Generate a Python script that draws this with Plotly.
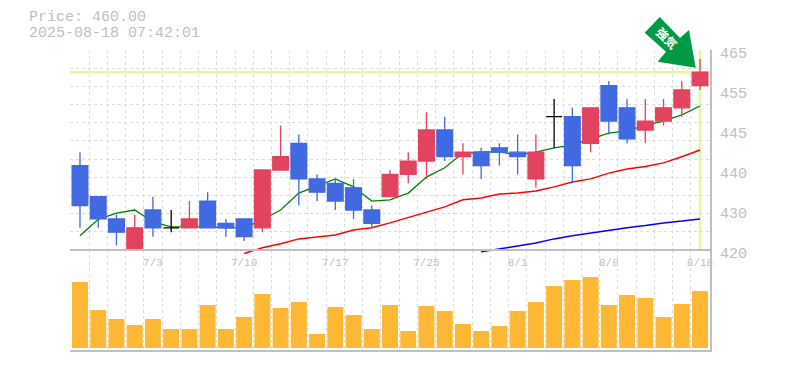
import plotly.graph_objects as go

dates = ["6/27","6/30","7/1","7/2","7/3","7/4","7/7","7/8","7/9","7/10","7/11","7/14","7/15","7/16","7/17",
         "7/18","7/22","7/23","7/24","7/25","7/28","7/29","7/30","7/31","8/1","8/4","8/5","8/6","8/7","8/8",
         "8/12","8/13","8/14","8/15","8/18"]
opens = [439,432,427,420,429,425,425,431,426,427,425,438,444,436,435,434,429,432,437,440,447,441,442,443,442,436,450,450,444,457,452,447,449,452,457]
highs = [442,432,428,428,432,429,431,433,427,427,438,448,446,437,436,436,430,438,442,451,450,444,443,444,446,446,454,452,452,458,454,454,454,458,463]
lows = [425,425,421,420,423,424,425,425,423,422,424,438,430,431,429,427,425,432,435,436,440,437,436,439,437,434,443,435,442,446,444,444,448,450,456]
closes = [430,427,424,425,425,425,427,425,425,423,438,441,436,433,431,429,426,437,440,447,441,442,439,442,441,442,450,439,452,449,445,449,452,456,460]
volumes = [6600,3800,2900,2300,2900,1900,1900,4300,1900,3100,5400,4000,4600,1400,4100,3300,1900,4300,1700,4200,3700,2400,1700,2200,3700,4600,6200,6800,7100,4300,5300,5000,3100,4400,5700]
ma_short = [423.2,426.9,428.3,429.0,426.3,425.2,425.2,425.2,425.0,425.0,426.8,429.0,432.8,434.4,436.0,434.2,431.0,431.3,432.8,436.4,438.5,441.8,442.1,442.1,441.4,442.0,443.0,443.6,445.0,446.3,446.8,448.1,449.0,450.4,452.4]
ma_mid = [None]*9 + [419.2,420.5,421.4,422.5,422.9,423.4,424.5,425.0,426.1,427.3,428.4,429.7,431.3,431.7,432.6,432.8,433.3,434.2,435.3,436.0,437.3,438.2,438.8,439.6,441.0,442.5]
ma_long = [None]*22 + [419.6,420.2,420.9,421.6,422.5,423.2,423.8,424.5,425.0,425.5,426.1,426.5,427.0]
price_ticks = [420,429,438,447,456,465]
price_labels = ["420","430","440","445","455","465"]
date_ticks = [4,9,14,19,24,29,34]
current_price = 460

n = len(dates)
idx = list(range(n))
doji = [i for i in idx if opens[i] == closes[i]]
body = [i for i in idx if opens[i] != closes[i]]

RED, BLUE, GREY, GRID = "#e2435f", "#4169e1", "#c0c0c0", "#dddddd"
HILITE = "#e6f7ab"
MONO = "Liberation Mono"
x_range = [-0.548, 34.548]
y_range = [419.1, 465]

fig = go.Figure()
fig.add_scatter(x=idx, y=ma_short, mode="lines", line=dict(color="#008000", width=1.3), xaxis="x", yaxis="y", showlegend=False)
fig.add_scatter(x=idx, y=ma_mid, mode="lines", line=dict(color="#ff0000", width=1.5), xaxis="x", yaxis="y", showlegend=False)
fig.add_scatter(x=idx, y=ma_long, mode="lines", line=dict(color="#0000ff", width=1.5), xaxis="x", yaxis="y", showlegend=False)

fig.add_candlestick(x=body, open=[opens[i] for i in body], high=[highs[i] for i in body],
                    low=[lows[i] for i in body], close=[closes[i] for i in body],
                    increasing=dict(line=dict(color=RED, width=1.3), fillcolor=RED),
                    decreasing=dict(line=dict(color=BLUE, width=1.3), fillcolor=BLUE),
                    whiskerwidth=0, xaxis="x", yaxis="y3", showlegend=False)
fig.add_candlestick(x=doji, open=[opens[i] for i in doji], high=[highs[i] for i in doji],
                    low=[lows[i] for i in doji], close=[closes[i] for i in doji],
                    increasing=dict(line=dict(color="#000000", width=1.3), fillcolor="#000000"),
                    decreasing=dict(line=dict(color="#000000", width=1.3), fillcolor="#000000"),
                    whiskerwidth=0, xaxis="x", yaxis="y3", showlegend=False)

fig.add_bar(x=idx, y=volumes, marker=dict(color="#ffb835", line_width=0), width=0.877, xaxis="x2", yaxis="y2", showlegend=False)

grid_x = dict(minor=dict(showgrid=True, tickmode="array", tickvals=[i - 0.5 for i in range(n)],
                         gridcolor=GRID, griddash="3px,3px", gridwidth=1, ticklen=0),
              showgrid=False, zeroline=False, range=x_range, fixedrange=True)

fig.update_layout(
    width=785, height=370, autosize=False,
    margin=dict(l=70, r=75, t=50, b=20, pad=0),
    paper_bgcolor="white", plot_bgcolor="rgba(0,0,0,0)",
    boxgap=0.14, boxgroupgap=0, boxmode="overlay",
    barmode="overlay",
    font=dict(family=MONO, color=GREY),
    xaxis=dict(domain=[0, 1], anchor="y", tickmode="array", tickvals=date_ticks,
               ticktext=[dates[i] for i in date_ticks], tickfont=dict(size=11, color=GREY, family=MONO),
               ticklen=0, showline=False, rangeslider=dict(visible=False), **grid_x),
    xaxis2=dict(domain=[0, 1], anchor="y2", showticklabels=False, ticklen=0, showline=True,
                linecolor=GREY, linewidth=2, **grid_x),
    yaxis=dict(domain=[0.32, 1], anchor="x", side="right", range=y_range, tickmode="array",
               tickvals=price_ticks, ticktext=price_labels, tickfont=dict(size=15, color=GREY, family=MONO),
               ticklen=0, ticklabelstandoff=5, ticklabelshift=3, showline=True, linecolor=GREY, linewidth=2,
               showgrid=False, zeroline=False, fixedrange=True,
               minor=dict(showgrid=True, tickmode="array", tickvals=[420 + k * 45 / 11 for k in range(1, 12)],
                          gridcolor=GRID, griddash="3px,3px", gridwidth=1, ticklen=0)),
    yaxis3=dict(overlaying="y", anchor="x", side="right", range=y_range, visible=False, fixedrange=True),
    yaxis2=dict(domain=[0, 1 / 3], anchor="x2", side="right", range=[-200, 9800], showticklabels=False,
                ticklen=0, showline=True, linecolor=GREY, linewidth=2, showgrid=False, zeroline=False, fixedrange=True),
    shapes=[
        dict(type="line", xref="paper", x0=0, x1=1, yref="y", y0=current_price, y1=current_price,
             line=dict(color=HILITE, width=3), layer="below"),
        dict(type="line", xref="x", x0=n - 1, x1=n - 1, yref="y", y0=420, y1=465,
             line=dict(color=HILITE, width=3), layer="below"),
        dict(type="line", xref="paper", x0=0, x1=1, yref="y", y0=420, y1=420,
             line=dict(color=GREY, width=2), layer="above"),
        dict(type="path", xref="paper", yref="paper", fillcolor="#009944", line_width=0, layer="above",
             path="M {} {} L {} {} L {} {} L {} {} L {} {} L {} {} L {} {} Z".format(
                 *[v for px, py in [(659.7, 17), (680, 38), (689, 30), (695.7, 67.7), (657.7, 61.7), (666, 51.7), (644.7, 32.7)]
                   for v in ((px - 70) / 640, (350 - py) / 300)])),
    ],
    annotations=[
        dict(text="Price: 460.00", xref="paper", yref="paper", x=(27 - 70) / 640, y=(350 - 18) / 300,
             xanchor="left", yanchor="middle", showarrow=False, font=dict(family=MONO, size=15, color=GREY)),
        dict(text="2025-08-18 07:42:01", xref="paper", yref="paper", x=(27 - 70) / 640, y=(350 - 33) / 300,
             xanchor="left", yanchor="middle", showarrow=False, font=dict(family=MONO, size=15, color=GREY)),
        dict(text="<b>強気</b>", xref="paper", yref="paper", x=(667 - 70) / 640, y=(350 - 38) / 300,
             xanchor="center", yanchor="middle", showarrow=False, textangle=45,
             font=dict(family="Noto Sans CJK JP", size=12, color="white")),
    ],
)

fig.write_html("out.html", config=dict(displayModeBar=False), post_script="document.body.style.margin='0';")
